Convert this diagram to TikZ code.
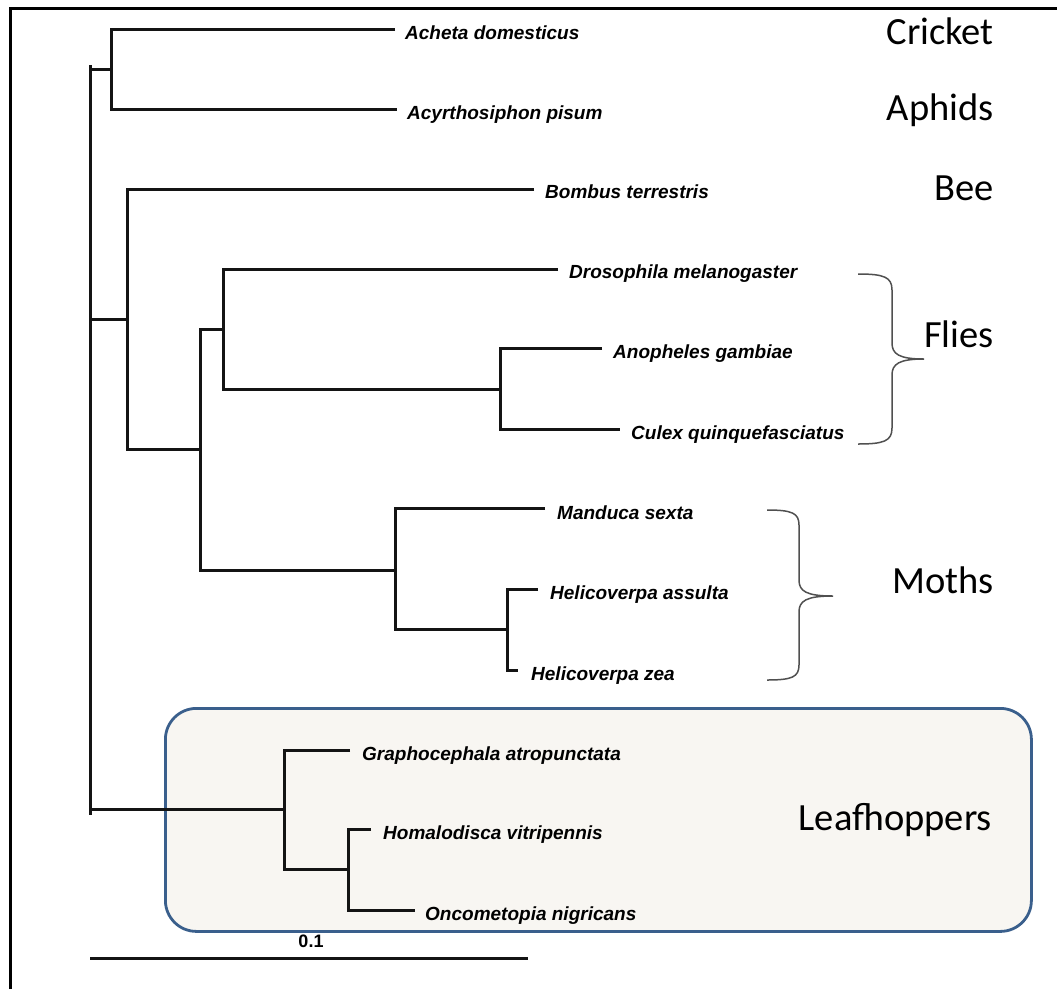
\documentclass[tikz,border=0pt]{standalone}
\usepackage{fontspec}
\newfontfamily\taxfont{Liberation Sans}
\newfontfamily\grpfont{Carlito}
\definecolor{boxblue}{RGB}{58,95,140}
\definecolor{boxfill}{RGB}{248,246,242}
\definecolor{bracegray}{RGB}{80,80,80}
\begin{document}
\begin{tikzpicture}[x=1pt,y=-1pt,
  br/.style={line width=3pt, black!92},
  taxon/.style={anchor=base west, inner sep=0pt, text=black,
    font=\taxfont\bfseries\itshape\fontsize{19}{19}\selectfont},
  group/.style={anchor=base east, inner sep=0pt, text=black,
    font=\grpfont\fontsize{38.5}{40}\selectfont},
  brc/.style={line width=1.5pt, bracegray},
  frame/.style={line width=3pt, black}]
\useasboundingbox (0,0) rectangle (1057,989);
% outer frame (left and top edges visible)
\draw[frame] (10,989) -- (10,8) -- (1057,8);

% leafhopper box
\node[draw=boxblue, line width=2.8pt, fill=boxfill, rounded corners=31pt,
  minimum width=866pt, minimum height=223pt, inner sep=0pt, anchor=north west]
  (lbox) at (164,707) {};

% tree coordinates
\coordinate (r) at (90,65);
\coordinate (rb) at (90,815);
\coordinate (n1) at (111,69);
\coordinate (tA) at (395,29);
\coordinate (tB) at (397,109);
\coordinate (n2) at (127,319);
\coordinate (tC) at (534,189);
\coordinate (n3) at (200,449);
\coordinate (n4) at (223,329);
\coordinate (tD) at (558,269);
\coordinate (n5) at (500,389);
\coordinate (tE) at (602,348);
\coordinate (tF) at (620,429);
\coordinate (n6) at (395,570);
\coordinate (tG) at (545,508);
\coordinate (n7) at (507,629);
\coordinate (tH) at (538,589);
\coordinate (tI) at (518,670);
\coordinate (n8) at (284,809);
\coordinate (tJ) at (350,750);
\coordinate (n9) at (348,869);
\coordinate (tK) at (371,829);
\coordinate (tL) at (415,910);

% branches
\draw[br] (r) -- (rb);
\draw[br] (r |- n1) -- (n1);
\draw[br] (tA) -| (n1) |- (tB);
\draw[br] (r |- n2) -- (n2);
\draw[br] (tC) -| (n2) |- (n3);
\draw[br] (n4) -| (n3) |- (n6);
\draw[br] (tD) -| (n4) |- (n5);
\draw[br] (tE) -| (n5) |- (tF);
\draw[br] (tG) -| (n6) |- (n7);
\draw[br] (tH) -| (n7) |- (tI);
\draw[br] (r |- n8) -- (n8);
\draw[br] (tJ) -| (n8) |- (n9);
\draw[br] (tK) -| (n9) |- (tL);

% taxon labels
\node[taxon] (lA) at (405,39.5) {Acheta domesticus};
\node[taxon] (lB) at (407,119.5) {Acyrthosiphon pisum};
\node[taxon] (lC) at (545,198.5) {Bombus terrestris};
\node[taxon] (lD) at (569,278.5) {Drosophila melanogaster};
\node[taxon] (lE) at (613,358) {Anopheles gambiae};
\node[taxon] (lF) at (631,439) {Culex quinquefasciatus};
\node[taxon] (lG) at (557,519) {Manduca sexta};
\node[taxon] (lH) at (550,599) {Helicoverpa assulta};
\node[taxon] (lI) at (531,680) {Helicoverpa zea};
\node[taxon] (lJ) at (362,760) {Graphocephala atropunctata};
\node[taxon] (lK) at (383,839) {Homalodisca vitripennis};
\node[taxon] (lL) at (425,920) {Oncometopia nigricans};

% group labels
\node[group] (gCr) at (994,44.5) {Cricket};
\node[group] (gAp) at (994,120.5) {Aphids};
\node[group] (gBe) at (994,200) {Bee};
\node[group] (gFl) at (994,347) {Flies};
\node[group] (gMo) at (994,593) {Moths};
\node[group] (gLe) at (992,830) {Leafhoppers};

% braces
\coordinate (fa) at (858,274);
\coordinate (ft) at (924,359);
\coordinate (fb) at (858,444);
\draw[brc] (fa) .. controls (884,274) and (892,277) .. (892,290)
  -- (892,343) .. controls (892,354) and (899,359) .. (ft)
  .. controls (899,359) and (892,364) .. (892,375)
  -- (892,428) .. controls (892,441) and (884,444) .. (fb);
\coordinate (ma) at (767,510);
\coordinate (mt) at (833,596);
\coordinate (mb) at (767,680);
\draw[brc] (ma) .. controls (792,510) and (799,513) .. (799,525)
  -- (799,580) .. controls (799,591) and (806,596) .. (mt)
  .. controls (806,596) and (799,601) .. (799,612)
  -- (799,665) .. controls (799,677) and (792,680) .. (mb);

% scale bar
\coordinate (s0) at (90,958);
\coordinate (s1) at (528,958);
\draw[br] (s0) -- (s1);
\node[anchor=base, inner sep=0pt, text=black,
  font=\taxfont\bfseries\fontsize{18}{18}\selectfont] (sl) at (311,947.5) {0.1};
\end{tikzpicture}
\end{document}
